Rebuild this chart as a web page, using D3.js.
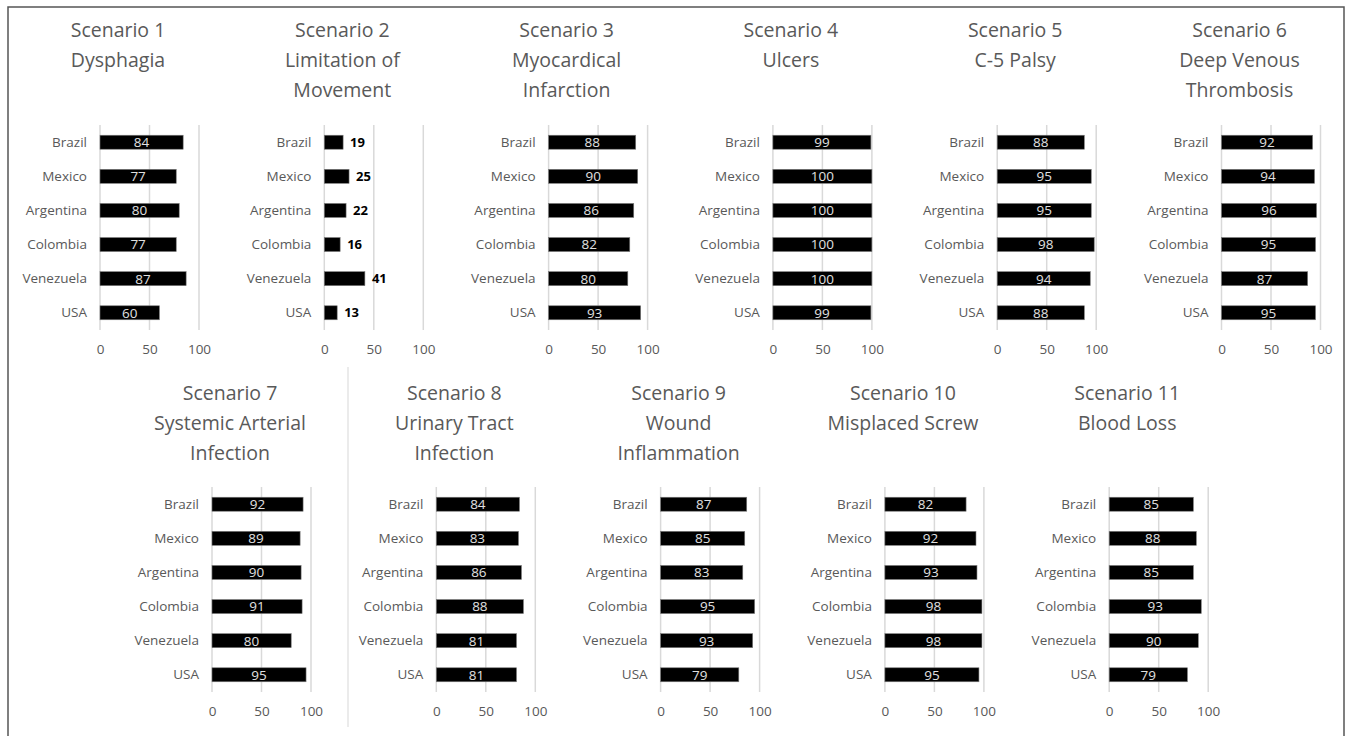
<!DOCTYPE html>
<html>
<head>
<meta charset="utf-8">
<script src="https://cdn.jsdelivr.net/npm/d3@7"></script>
<style>
  html, body { margin: 0; padding: 0; background: #fff; }
  svg { display: block; }
  text { font-family: "Open Sans", "Noto Sans", sans-serif; }
</style>
</head>
<body>
<svg id="chart" width="1346" height="736"></svg>
<script>
// Countries surveyed (same order in every panel)
const countries = ["Brazil", "Mexico", "Argentina", "Colombia", "Venezuela", "USA"];

// Axis ticks
const tickValues = [0, 50, 100];

// Panel titles
const titles = [
  ["Scenario 1", "Dysphagia"],
  ["Scenario 2", "Limitation of", "Movement"],
  ["Scenario 3", "Myocardical", "Infarction"],
  ["Scenario 4", "Ulcers"],
  ["Scenario 5", "C-5 Palsy"],
  ["Scenario 6", "Deep Venous", "Thrombosis"],
  ["Scenario 7", "Systemic Arterial", "Infection"],
  ["Scenario 8", "Urinary Tract", "Infection"],
  ["Scenario 9", "Wound", "Inflammation"],
  ["Scenario 10", "Misplaced Screw"],
  ["Scenario 11", "Blood Loss"]
];

// Percentages per scenario, in country order
const scenario1 = [84, 77, 80, 77, 87, 60];
const scenario2 = [19, 25, 22, 16, 41, 13];
const scenario3 = [88, 90, 86, 82, 80, 93];
const scenario4 = [99, 100, 100, 100, 100, 99];
const scenario5 = [88, 95, 95, 98, 94, 88];
const scenario6 = [92, 94, 96, 95, 87, 95];
const scenario7 = [92, 89, 90, 91, 80, 95];
const scenario8 = [84, 83, 86, 88, 81, 81];
const scenario9 = [87, 85, 83, 95, 93, 79];
const scenario10 = [82, 92, 93, 98, 98, 95];
const scenario11 = [85, 88, 85, 93, 90, 79];

const scenarios = [scenario1, scenario2, scenario3, scenario4, scenario5, scenario6,
                   scenario7, scenario8, scenario9, scenario10, scenario11];

const svg = d3.select("#chart");

// Outer frame
svg.append("rect")
  .attr("x", 8).attr("y", 7)
  .attr("width", 1336).attr("height", 740)
  .attr("fill", "none").attr("stroke", "#555").attr("stroke-width", 1.5);

// Divider in the lower row
svg.append("line")
  .attr("x1", 348).attr("x2", 348).attr("y1", 367).attr("y2", 727)
  .attr("stroke", "#e4e4e4").attr("stroke-width", 1.5);

const plotW = 99;
const x = d3.scaleLinear().domain([0, 100]).range([0, plotW]);

// Panel layout: six on the top row, five offset by half a panel below
const pitch = 224.3;
function layout(i) {
  if (i < 6) return { x0: 100 + i * pitch, top: 125, bottom: 330, titleY: 37 };
  return { x0: 212 + (i - 6) * pitch, top: 487, bottom: 692, titleY: 400 };
}

scenarios.forEach((vals, i) => {
  const L = layout(i);
  const g = svg.append("g").attr("transform", `translate(${L.x0},0)`);
  const y = d3.scaleBand().domain(countries).range([L.top, L.bottom]).paddingInner(0.59).paddingOuter(0.3);

  // Title lines
  const t = g.append("text")
    .attr("x", 18).attr("y", L.titleY)
    .attr("text-anchor", "middle")
    .attr("fill", "#595959")
    .style("font-size", "19.5px");
  titles[i].forEach((line, k) => {
    t.append("tspan").attr("x", 18).attr("dy", k === 0 ? 0 : 30).text(line);
  });

  // Vertical gridlines
  g.selectAll("line.grid").data(tickValues).join("line")
    .attr("class", "grid")
    .attr("x1", d => x(d)).attr("x2", d => x(d))
    .attr("y1", L.top).attr("y2", L.bottom)
    .attr("stroke", "#d9d9d9").attr("stroke-width", 1.5);

  // Bottom tick labels
  const axis = d3.axisBottom(x).tickValues(tickValues).tickSize(0).tickPadding(0);
  const ax = g.append("g").attr("transform", `translate(0,${L.bottom + 14})`).call(axis);
  ax.select(".domain").remove();
  ax.selectAll("text")
    .attr("fill", "#595959")
    .attr("dy", "0.71em")
    .style("font-size", "13.5px")
    .style("font-family", '"Open Sans", sans-serif');

  // Category labels
  g.selectAll("text.cat").data(countries).join("text")
    .attr("class", "cat")
    .attr("x", -13)
    .attr("y", d => y(d) + y.bandwidth() / 2)
    .attr("dy", "0.35em")
    .attr("text-anchor", "end")
    .attr("fill", "#595959")
    .style("font-size", "13.5px")
    .text(d => d);

  // Bars
  g.selectAll("rect.bar").data(vals).join("rect")
    .attr("class", "bar")
    .attr("x", x(0))
    .attr("y", (d, j) => y(countries[j]))
    .attr("width", d => x(d) - x(0))
    .attr("height", y.bandwidth())
    .attr("fill", "#000")
    .attr("stroke", "#7a7a7a").attr("stroke-width", 0.6);

  // Value labels: inside the bar, or outside in bold for short bars
  const outside = i === 1;
  g.selectAll("text.val").data(vals).join("text")
    .attr("class", "val")
    .attr("x", d => outside ? x(d) + 7 : x(d) / 2)
    .attr("y", (d, j) => y(countries[j]) + y.bandwidth() / 2)
    .attr("dy", "0.36em")
    .attr("text-anchor", outside ? "start" : "middle")
    .attr("fill", outside ? "#000" : "#e0e0e0")
    .style("font-size", outside ? "13px" : "13.5px")
    .style("font-weight", outside ? "bold" : "normal")
    .text(d => d);
});
</script>
</body>
</html>
